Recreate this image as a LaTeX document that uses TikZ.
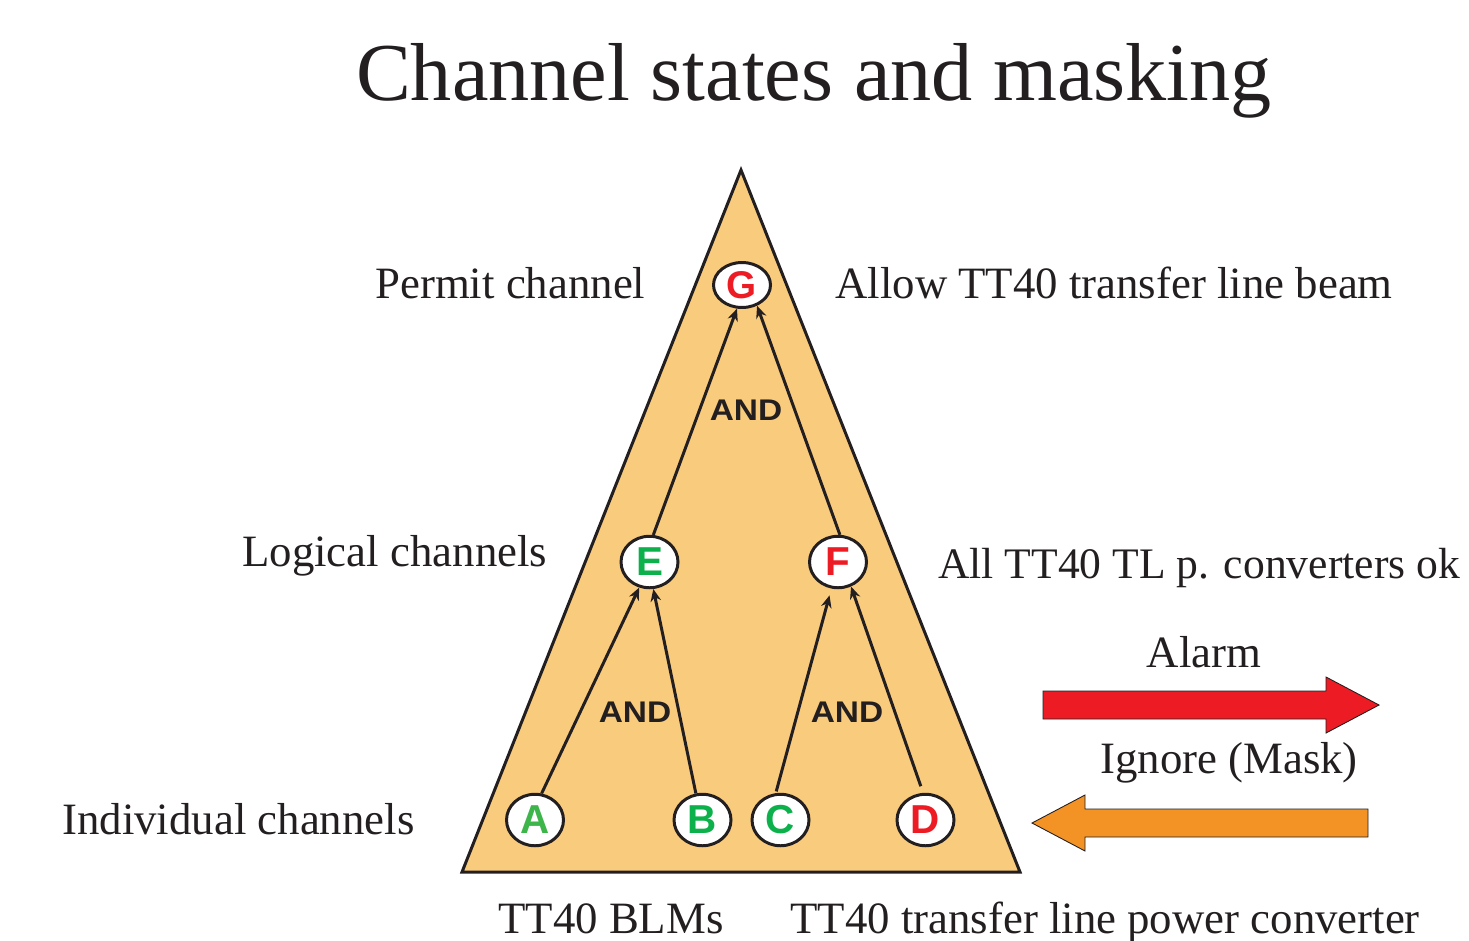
\documentclass[tikz,border=0pt]{standalone}
\usepackage{fontspec}
\setmainfont{Liberation Serif}
\newfontfamily\lettersans{Liberation Sans}
\usetikzlibrary{arrows.meta,shapes.geometric}

\definecolor{pyramid}{RGB}{249,203,124}
\definecolor{okgreen}{RGB}{13,177,75}
\definecolor{lightgreen}{RGB}{61,181,74}
\definecolor{badred}{RGB}{237,28,36}
\definecolor{maskorange}{RGB}{243,147,37}
\definecolor{ink}{RGB}{35,31,32}

\tikzset{
  chan/.style={ellipse, draw=ink, line width=1.7pt, fill=white, inner sep=0pt,
    minimum width=1.14cm, minimum height=1.03cm,
    font=\lettersans\bfseries\fontsize{23}{23}\selectfont},
  flow/.style={draw=ink, line width=1.7pt, -{Stealth[length=7pt,width=6pt]}},
  andlabel/.style={font=\lettersans\bfseries\fontsize{17}{17}\selectfont, text=ink,
    inner sep=0pt, xscale=1.12},
  caption/.style={font=\fontsize{25.5}{25.5}\selectfont, text=ink, inner sep=0pt},
  blockarrow/.style={draw=ink, line width=0.5pt}
}

\begin{document}
\begin{tikzpicture}[x=0.02cm, y=-0.02cm]
\useasboundingbox (0,0) rectangle (1469,940);

% title
\node[font=\fontsize{46.8}{46.8}\selectfont, text=ink, inner sep=0pt, anchor=base] (title) at (814,100) {Channel states and masking};

% pyramid
\draw[fill=pyramid, draw=ink, line width=1.7pt, line join=miter] (741,170) -- (1020,872) -- (462,872) -- cycle;

% channel nodes
\node[chan, text=badred, minimum height=0.9cm, font=\lettersans\bfseries\fontsize{22}{22}\selectfont] (G) at (742,285) {G};
\node[chan, text=okgreen] (E) at (649.5,562) {E};
\node[chan, text=badred] (F) at (838,562) {F};
\node[chan, text=lightgreen] (A) at (535,820) {A};
\node[chan, text=okgreen] (B) at (702.5,820) {B};
\node[chan, text=okgreen] (C) at (780.5,820) {C};
\node[chan, text=badred] (D) at (925.5,820) {D};

% AND combinations
\draw[flow] (A.76) -- (E.-112);
\draw[flow] (B.104) -- (E.-82);
\draw[flow, shorten <=1pt, shorten >=4pt] (C.100) -- (F.-104);
\draw[flow, shorten <=4pt] (D.95) -- (F.-62);
\draw[flow] (E.82) -- (G.-102);
\draw[flow] (F.86) -- (G.-54);

\node[andlabel] (and1) at (746,410) {AND};
\node[andlabel] (and2) at (635,712) {AND};
\node[andlabel] (and3) at (847,712) {AND};

% level captions
\node[caption, anchor=base west] (permit) at (375,298) {Permit channel};
\node[caption, anchor=base west] (allow) at (835,298) {Allow TT40 transfer line beam};
\node[caption, anchor=base west] (logical) at (242,566) {Logical channels};
\node[caption, anchor=base west, font=\fontsize{24.8}{24.8}\selectfont] (allconv) at (938,578) {All TT40 TL p. converters ok};
\node[caption, anchor=base west] (indiv) at (62,834) {Individual channels};
\node[caption, anchor=base west] (blms) at (498,933) {TT40 BLMs};
\node[caption, anchor=base west] (pc) at (790,933) {TT40 transfer line power converter};

% alarm / mask arrows
\node[caption, anchor=base] (alarm) at (1204,667) {Alarm};
\draw[blockarrow, fill=badred] (1043,691) -- (1326,691) -- (1326,677) -- (1379,705)
  -- (1326,733) -- (1326,719) -- (1043,719) -- cycle;
\node[caption, anchor=base west] (ignore) at (1100,773) {Ignore (Mask)};
\draw[blockarrow, fill=maskorange] (1368,809) -- (1085,809) -- (1085,795) -- (1032,823)
  -- (1085,851) -- (1085,837) -- (1368,837) -- cycle;
\end{tikzpicture}
\end{document}
